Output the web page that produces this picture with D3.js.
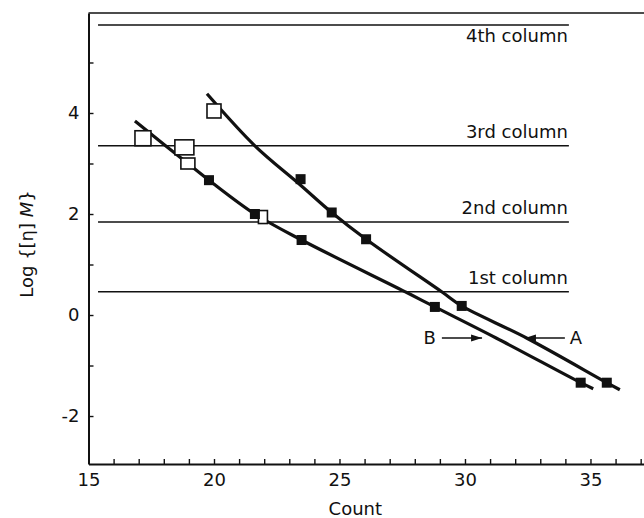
<!DOCTYPE html>
<html>
<head>
<meta charset="utf-8">
<script src="https://cdn.jsdelivr.net/npm/d3@7"></script>
<style>
body { margin: 0; background: #fff; }
svg { display: block; }
text { font-family: "DejaVu Sans", sans-serif; fill: #111; }
</style>
</head>
<body>
<svg id="chart"></svg>
<script>
// values: [count, log{[eta]M}]
const filledA = [[23.45, 2.69], [24.69, 2.03], [26.06, 1.50], [29.87, 0.18], [35.65, -1.34]];
const openA = [[20.0, 4.04]];
const filledB = [[19.80, 2.67], [21.63, 2.00], [23.49, 1.485], [28.80, 0.16], [34.61, -1.34]];
const openB = [[17.17, 3.50], [18.82, 3.32], [18.96, 3.00], [21.95, 1.94]];

// the two drawn calibration curves
const curveA = [[19.72, 4.38], [21.63, 3.35], [23.43, 2.58], [24.69, 2.03], [26.06, 1.50], [29.1, 0.45], [29.87, 0.18], [32.47, -0.46], [35.65, -1.34], [36.17, -1.48]];
const curveB = [[16.85, 3.84], [18.96, 3.00], [19.80, 2.67], [21.63, 2.00], [23.49, 1.485], [27.7, 0.44], [28.80, 0.16], [31.24, -0.455], [34.61, -1.34], [35.11, -1.46]];

// exclusion limits of the columns
const columnNames = ["4th column", "3rd column", "2nd column", "1st column"];
const columnLevels = [5.74, 3.35, 1.84, 0.46];
const columnSpan = [15.38, 34.14];

const xTickLabels = [15, 20, 25, 30, 35];
const yTickLabels = [-2, 0, 2, 4];

const curveNames = ["A", "B"];
const arrowLevel = -0.455;
const arrowFrom = [33.98, 29.08];
const arrowTo = [32.39, 30.68];

let width = 644, height = 518;
let svg = d3.select("#chart").attr("width", width).attr("height", height);

let x = d3.scaleLinear().domain([15, 37.3]).range([88.5, 648.2]);
let y = d3.scaleLinear().domain([-2.95, 5.98]).range([464, 13]);

svg.append("defs").append("marker")
    .attr("id", "head")
    .attr("markerUnits", "userSpaceOnUse")
    .attr("markerWidth", 11).attr("markerHeight", 8)
    .attr("refX", 11).attr("refY", 4)
    .attr("orient", "auto")
    .append("path")
    .attr("d", "M0,0.5 L11,4 L0,7.5 Z")
    .attr("fill", "#111");

// top frame
svg.append("line")
    .attr("x1", x(15)).attr("x2", x(37.3))
    .attr("y1", y(5.98)).attr("y2", y(5.98))
    .attr("stroke", "#111").attr("stroke-width", 1.6);

// axes, ticks pointing inward
let xAxis = svg.append("g")
    .attr("transform", "translate(0," + y(-2.95) + ")")
    .call(d3.axisBottom(x)
        .tickValues(d3.range(15, 38))
        .tickSize(-5).tickSizeOuter(0).tickPadding(9)
        .tickFormat(d => xTickLabels.includes(d) ? d : ""));

let yAxis = svg.append("g")
    .attr("transform", "translate(" + x(15) + ",0)")
    .call(d3.axisLeft(y)
        .tickValues(d3.range(-2, 6))
        .tickSize(-5).tickSizeOuter(0).tickPadding(9)
        .tickFormat(d => yTickLabels.includes(d) ? d : ""));

for (let ax of [xAxis, yAxis]) {
    ax.select(".domain").attr("stroke", "#111").attr("stroke-width", 2);
    ax.selectAll(".tick line").attr("stroke", "#111").attr("stroke-width", 1.4);
    ax.selectAll(".tick text")
        .attr("font-size", 18)
        .attr("font-family", "DejaVu Sans, sans-serif")
        .attr("fill", "#111");
}

// column limit lines
columnLevels.forEach((v, i) => {
    svg.append("line")
        .attr("x1", x(columnSpan[0])).attr("x2", x(columnSpan[1]))
        .attr("y1", y(v)).attr("y2", y(v))
        .attr("stroke", "#111").attr("stroke-width", 1.5);
    svg.append("text")
        .attr("x", x(columnSpan[1]) - 1)
        .attr("y", y(v) + (i == 0 ? 17 : -8))
        .attr("text-anchor", "end")
        .attr("font-size", 18)
        .text(columnNames[i]);
});

// curves
let line = d3.line()
    .curve(d3.curveCatmullRom)
    .x(d => x(d[0]))
    .y(d => y(d[1]));

for (let c of [curveA, curveB]) {
    svg.append("path")
        .datum(c)
        .attr("fill", "none")
        .attr("stroke", "#111")
        .attr("stroke-width", 3.2)
        .attr("stroke-linecap", "butt")
        .attr("d", line);
}

// open squares (the hand-drawn ones differ a little in size)
let openSizes = [[16, 15], [19, 15], [14, 11], [9, 13], [14, 14]];
let openPts = openB.concat(openA);
svg.selectAll("rect.open")
    .data(openPts)
    .enter()
    .append("rect")
    .attr("class", "open")
    .attr("x", (d, i) => x(d[0]) - openSizes[i][0] / 2)
    .attr("y", (d, i) => y(d[1]) - openSizes[i][1] / 2)
    .attr("width", (d, i) => openSizes[i][0])
    .attr("height", (d, i) => openSizes[i][1])
    .attr("fill", "#fff")
    .attr("stroke", "#111")
    .attr("stroke-width", 1.6);

// filled squares
svg.selectAll("rect.filled")
    .data(filledA.concat(filledB))
    .enter()
    .append("rect")
    .attr("class", "filled")
    .attr("x", d => x(d[0]) - 5)
    .attr("y", d => y(d[1]) - 5)
    .attr("width", 10)
    .attr("height", 10)
    .attr("fill", "#111");

// curve labels with arrows
curveNames.forEach((name, i) => {
    svg.append("line")
        .attr("x1", x(arrowFrom[i])).attr("x2", x(arrowTo[i]))
        .attr("y1", y(arrowLevel)).attr("y2", y(arrowLevel))
        .attr("stroke", "#111").attr("stroke-width", 1.5)
        .attr("marker-end", "url(#head)");
    let left = arrowFrom[i] < arrowTo[i];
    svg.append("text")
        .attr("x", x(arrowFrom[i]) + (left ? -6 : 5))
        .attr("y", y(arrowLevel))
        .attr("dy", "0.36em")
        .attr("text-anchor", left ? "end" : "start")
        .attr("font-size", 18)
        .text(name);
});

// axis titles
svg.append("text")
    .attr("x", (x(15) + x(37.3)) / 2 - 13)
    .attr("y", 515)
    .attr("text-anchor", "middle")
    .attr("font-size", 18)
    .text("Count");

let yTitle = svg.append("text")
    .attr("transform", "translate(27," + 244 + ") rotate(-90)")
    .attr("text-anchor", "middle")
    .attr("dy", "0.36em")
    .attr("font-size", 18);
yTitle.append("tspan").text("Log {[η] ");
yTitle.append("tspan").attr("font-style", "italic").text("M");
yTitle.append("tspan").text("}");
</script>
</body>
</html>
